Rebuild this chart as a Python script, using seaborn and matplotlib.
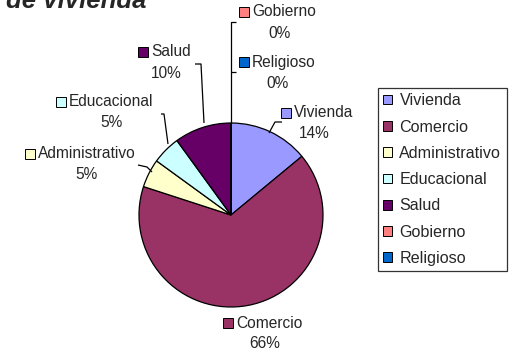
import matplotlib
matplotlib.use("Agg")
import matplotlib.pyplot as plt
import seaborn as sns

sns.set_style("white")
plt.rcParams["font.family"] = ["Liberation Sans", "DejaVu Sans"]

# Land-use shares (percent)
categories = ["Vivienda", "Comercio", "Administrativo", "Educacional",
              "Salud", "Gobierno", "Religioso"]
shares = [14, 66, 5, 5, 10, 0, 0]
colors = ["#9999FF", "#993366", "#FFFFCC", "#CCFFFF", "#660066",
          "#FF8080", "#0066CC"]
palette = sns.color_palette(colors)

W, H = 510, 353
fig = plt.figure(figsize=(W / 100, H / 100), dpi=100)
ax = fig.add_axes([0, 0, 1, 1])


def Y(y):
    # canvas rows counted from the top
    return H - y


FS = 11.2
cx, cy, r = 231, 215, 92

wedges, _ = ax.pie(shares, colors=palette, startangle=90, counterclock=False,
                   center=(cx, Y(cy)), radius=r, frame=True,
                   wedgeprops=dict(edgecolor="black", linewidth=0.9))
ax.set_xlim(0, W)
ax.set_ylim(0, H)
ax.axis("off")

# data labels: (square x, name y, percent centre x, percent y)
label_layout = {
    "Vivienda": (286, 113, 314, 134),
    "Comercio": (228, 323, 265, 343),
    "Administrativo": (30, 154, 86, 175),
    "Educacional": (61, 102, 111, 123),
    "Salud": (143, 52, 166, 73),
    "Gobierno": (244, 12, 280, 33),
    "Religioso": (244, 62, 278, 83),
}
for name, val, col in zip(categories, shares, palette):
    sx, ny, px, py = label_layout[name]
    ax.plot(sx, Y(ny), marker="s", markersize=6.5, markerfacecolor=col,
            markeredgecolor="black", markeredgewidth=0.7, linestyle="none")
    ax.text(sx + 8, Y(ny), name, fontsize=FS, va="center", ha="left")
    ax.text(px, Y(py), f"{val}%", fontsize=FS, va="center", ha="center")

# leader lines
leaders = [
    [(236, 22), (231, 22), (231, 123)],
    [(236, 72), (231, 72)],
    [(282, 122), (275, 122), (269, 133)],
    [(195, 64), (201, 64), (204, 123)],
    [(161, 114), (164, 114), (168, 144)],
    [(138, 165), (147, 167), (152, 172)],
]
for pts in leaders:
    xs = [p[0] for p in pts]
    ys = [Y(p[1]) for p in pts]
    ax.plot(xs, ys, color="black", linewidth=0.9, solid_capstyle="butt")

# title (top line runs off the canvas)
ax.text(6, Y(8), "de vivienda", fontsize=18.5, fontweight="bold",
        fontstyle="italic", va="baseline", ha="left")

LFS = 11.6
leg = ax.legend(wedges, categories, loc="upper left",
                bbox_to_anchor=(378 / W, 1 - 88 / H), borderaxespad=0,
                fontsize=LFS, frameon=True, fancybox=False, handlelength=0.55,
                handleheight=0.55, handletextpad=0.45, labelspacing=0.7,
                borderpad=0.33)
leg.get_frame().set_edgecolor("black")
leg.get_frame().set_linewidth(0.9)
for h in leg.legend_handles:
    h.set_edgecolor("black")
    h.set_linewidth(0.7)

fig.savefig("out.png", dpi=100)
